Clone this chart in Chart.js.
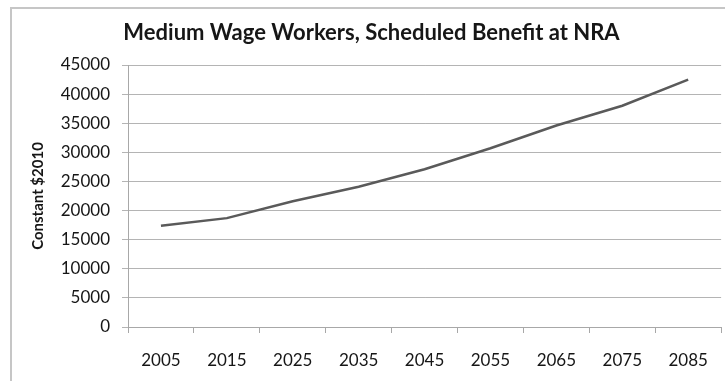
<!DOCTYPE html>
<html>
<head>
<meta charset="utf-8">
<script src="https://cdn.jsdelivr.net/npm/chart.js@4"></script>
<style>
  html, body { margin: 0; padding: 0; background: #fff; }
  #wrap { position: relative; width: 725px; height: 381px; overflow: hidden; }
  #frame { position: absolute; left: 10px; top: 7px; width: 800px; height: 500px;
           border: 2px solid #c6c6c6; box-sizing: border-box; }
  canvas { position: absolute; left: 0; top: 0; }
</style>
</head>
<body>
<div id="wrap">
  <div id="frame"></div>
  <canvas id="chart" width="725" height="381"></canvas>
</div>
<script>
// ---------- Data ----------
const years = ["2005", "2015", "2025", "2035", "2045", "2055", "2065", "2075", "2085"];
const benefit = [17400, 18700, 21600, 24100, 27100, 30700, 34600, 38000, 42500];
const yMin = 0, yMax = 45000, yStep = 5000;

const textColor = "#161616";
const fontFamily = "Lato, 'Open Sans', sans-serif";

new Chart(document.getElementById("chart"), {
  type: "line",
  data: {
    labels: years,
    datasets: [{
      data: benefit,
      borderColor: "#5a5a5a",
      borderWidth: 2.5,
      pointRadius: 0,
      fill: false,
      tension: 0
    }]
  },
  options: {
    responsive: false,
    animation: false,
    layout: { padding: { left: 20, right: 2, top: 0, bottom: 0 } },
    plugins: {
      legend: { display: false },
      tooltip: { enabled: false },
      title: {
        display: true,
        text: "Medium Wage Workers, Scheduled Benefit at NRA",
        color: textColor,
        font: { family: fontFamily, size: 22, weight: "bold" },
        padding: { top: 20, bottom: 18.6 }
      }
    },
    scales: {
      x: {
        offset: true,
        grid: { offset: true, drawOnChartArea: false, drawTicks: true, tickLength: 6, color: "#a8a8a8" },
        border: { color: "#a8a8a8" },
        ticks: { color: textColor, font: { family: fontFamily, size: 17 }, padding: 17, maxRotation: 0 },
        afterFit: s => { s.height = 54; }
      },
      y: {
        min: yMin,
        max: yMax,
        grid: { color: "#b4b4b4", tickLength: 6 },
        border: { color: "#a8a8a8" },
        ticks: {
          stepSize: yStep,
          color: textColor,
          font: { family: fontFamily, size: 17 },
          padding: 12,
          callback: v => String(v)
        },
        title: {
          display: true,
          text: "Constant $2010",
          color: textColor,
          font: { family: fontFamily, size: 15, weight: "bold" },
          padding: { top: 9, bottom: 0 }
        },
        afterFit: s => { s.width = 108; }
      }
    }
  }
});
</script>
</body>
</html>
